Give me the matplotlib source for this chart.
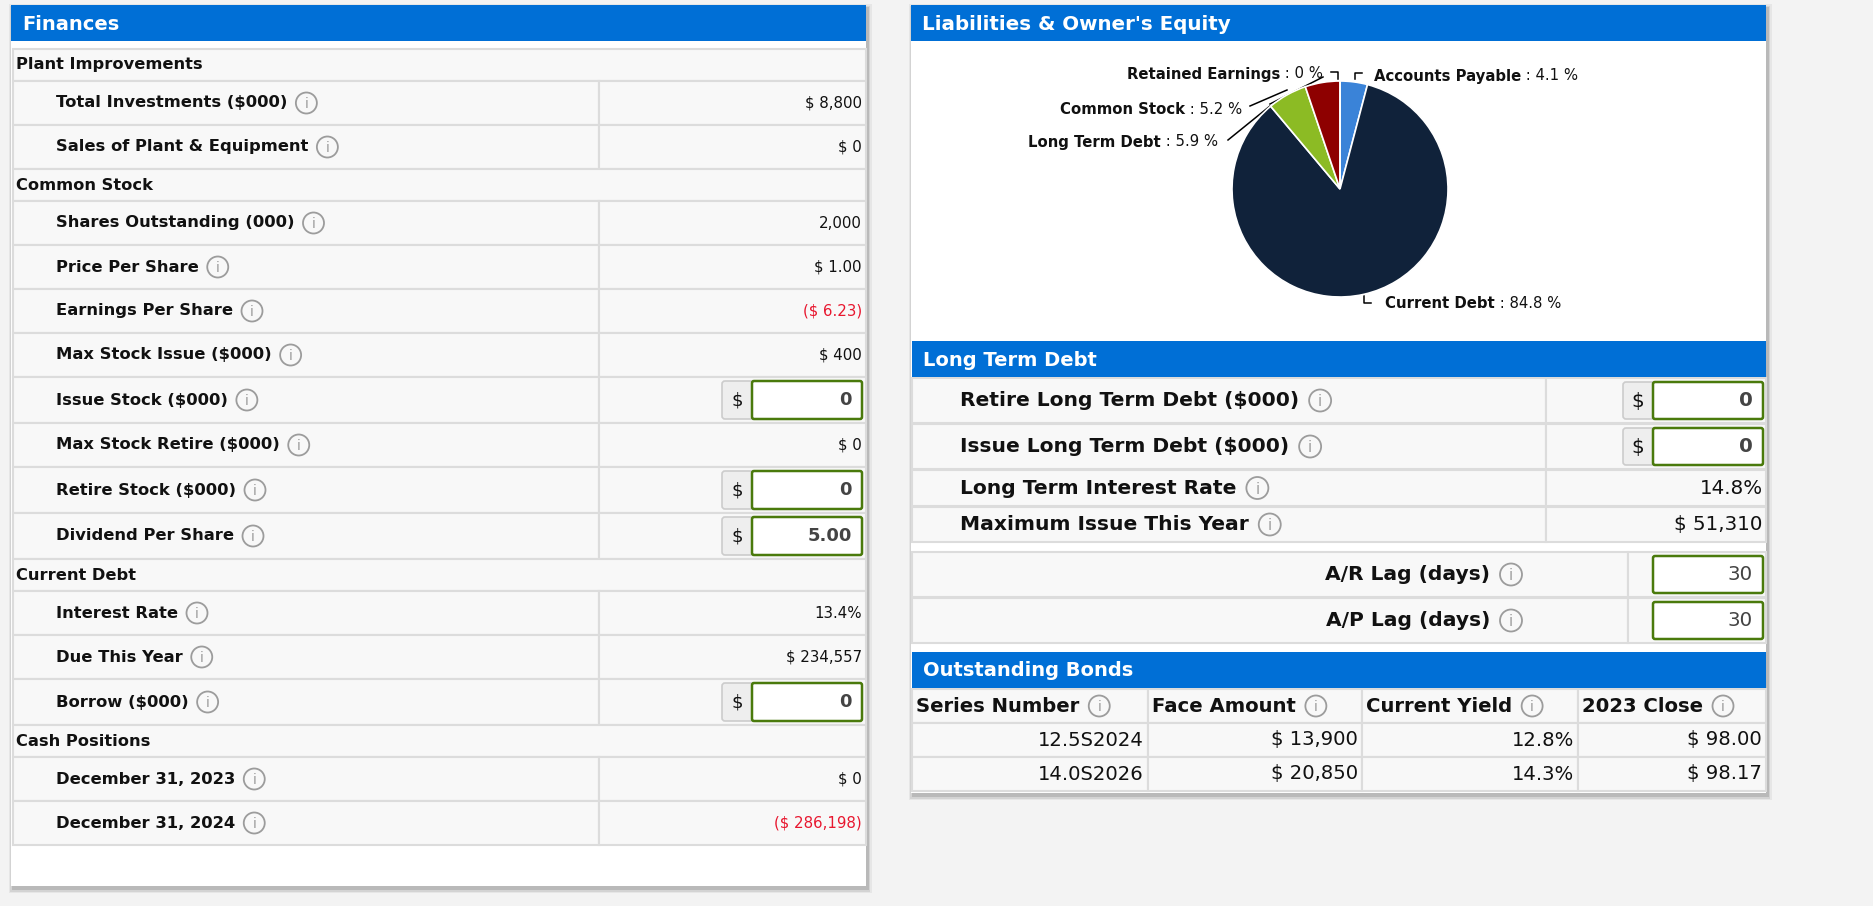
import matplotlib as mpl
mpl.use('Agg')
import matplotlib.pyplot as plt
from matplotlib.patches import Rectangle, Circle, FancyBboxPatch

# ---- data ----
plant_labels = ["Total Investments ($000)", "Sales of Plant & Equipment"]
plant_values = ["$ 8,800", "$ 0"]
stock_labels = ["Shares Outstanding (000)", "Price Per Share", "Earnings Per Share",
                "Max Stock Issue ($000)", "Issue Stock ($000)", "Max Stock Retire ($000)",
                "Retire Stock ($000)", "Dividend Per Share"]
stock_values = ["2,000", "$ 1.00", "($ 6.23)", "$ 400", "0", "$ 0", "0", "5.00"]
stock_inputs = [False, False, False, False, True, False, True, True]
debt_labels = ["Interest Rate", "Due This Year", "Borrow ($000)"]
debt_values = ["13.4%", "$ 234,557", "0"]
debt_inputs = [False, False, True]
cash_labels = ["December 31, 2023", "December 31, 2024"]
cash_values = ["$ 0", "($ 286,198)"]

pie_labels = ["Accounts Payable", "Current Debt", "Long Term Debt", "Common Stock", "Retained Earnings"]
pie_values = [4.1, 84.8, 5.9, 5.2, 0.0]
pie_colors = ["#3a83d8", "#10223a", "#8cbb24", "#8e0000", "#e0e0e0"]

ltd_labels = ["Retire Long Term Debt ($000)", "Issue Long Term Debt ($000)",
              "Long Term Interest Rate", "Maximum Issue This Year"]
ltd_values = ["0", "0", "14.8%", "$ 51,310"]
ltd_inputs = [True, True, False, False]
lag_labels = ["A/R Lag (days)", "A/P Lag (days)"]
lag_values = ["30", "30"]

bond_cols = ["Series Number", "Face Amount", "Current Yield", "2023 Close"]
bond_series = ["12.5S2024", "14.0S2026"]
bond_face = ["$ 13,900", "$ 20,850"]
bond_yield = ["12.8%", "14.3%"]
bond_close = ["$ 98.00", "$ 98.17"]

# ---- style ----
BLUE = '#006fd6'
ROWBG = '#f8f8f8'
GRID = '#dcdcdc'
TXT = '#111111'
RED = '#e8172f'
GREEN = '#4a7a0c'
FONT = 'DejaVu Sans'

fig = plt.figure(figsize=(18.74, 9.06), dpi=100)
fig.patch.set_facecolor('#f3f3f3')
ax = fig.add_axes([0, 0, 1, 1])
ax.set_xlim(0, 1874)
ax.set_ylim(906, 0)
ax.axis('off')
rend = fig.canvas.get_renderer()


def rect(x0, y0, x1, y1, fc, ec='none', lw=0, z=1):
    ax.add_patch(Rectangle((x0, y0), x1 - x0, y1 - y0, fc=fc, ec=ec, lw=lw, zorder=z))


def text_right_edge(t):
    bb = t.get_window_extent(renderer=rend)
    return ax.transData.inverted().transform((bb.x1, bb.y0))[0]


def text_left_edge(t):
    bb = t.get_window_extent(renderer=rend)
    return ax.transData.inverted().transform((bb.x0, bb.y0))[0]


def icon(x, y, r=10.5):
    ax.add_patch(Circle((x, y), r, fill=False, ec='#9c9c9c', lw=1.3, zorder=5))
    ax.text(x, y + 1, 'i', fontsize=r * 0.95, color='#9c9c9c', ha='center', va='center',
            family=FONT, zorder=5)


def label(x, y, s, size, ha='left', gap=19, r=10.5):
    t = ax.text(x, y, s, fontsize=size, fontweight='bold', color=TXT, ha=ha, va='center',
                family=FONT, zorder=4)
    icon(text_right_edge(t) + gap, y, r)


def input_box(xr, y, s, size, addon=True, h=38, w=110, bold=True):
    x0 = xr - w
    if addon:
        ax.add_patch(FancyBboxPatch((x0 - 30, y - h / 2), 34, h, boxstyle='round,pad=0,rounding_size=3',
                                    fc='#eeeeee', ec='#cccccc', lw=1.2, zorder=4))
        ax.text(x0 - 15, y + 1, '$', fontsize=size, color=TXT, ha='center', va='center', family=FONT, zorder=6)
    ax.add_patch(FancyBboxPatch((x0, y - h / 2), w, h, boxstyle='round,pad=0,rounding_size=2',
                                fc='white', ec=GREEN, lw=1.8, zorder=5))
    ax.text(xr - 10, y, s, fontsize=size, color='#444444', ha='right', va='center',
            fontweight='bold' if bold else 'normal', family=FONT, zorder=6)


def header(x0, x1, y0, y1, s, size=14):
    rect(x0, y0, x1, y1, BLUE, z=2)
    ax.text(x0 + 11, (y0 + y1) / 2 + 1, s, fontsize=size, fontweight='bold', color='white',
            va='center', family=FONT, zorder=3)


def panel(x0, y0, x1, y1):
    for k, a in [(4, 0.05), (2.5, 0.08), (1.2, 0.12)]:
        ax.add_patch(Rectangle((x0 - k + 2, y0 - k + 3), x1 - x0 + 2 * k, y1 - y0 + 2 * k,
                               fc='black', alpha=a, ec='none', zorder=0))
    rect(x0, y0, x1, y1, 'white', z=0.5)


# ---- left panel: Finances ----
LX0, LX1, LSPLIT = 13, 866, 599
panel(11, 5, 866, 886)
header(11, 866, 5, 41, 'Finances')

sections = [("Plant Improvements", plant_labels, plant_values, [False] * len(plant_labels)),
            ("Common Stock", stock_labels, stock_values, stock_inputs),
            ("Current Debt", debt_labels, debt_values, debt_inputs),
            ("Cash Positions", cash_labels, cash_values, [False] * len(cash_labels))]
y = 49
for title, labs, vals, inps in sections:
    rect(LX0, y, LX1, y + 32, ROWBG, GRID, 1.5)
    ax.text(LX0 + 3, y + 16, title, fontsize=11.7, fontweight='bold', color=TXT, va='center',
            family=FONT, zorder=4)
    y += 32
    for lab, val, inp in zip(labs, vals, inps):
        h = 46 if inp else 44
        rect(LX0, y, LSPLIT, y + h, ROWBG, GRID, 1.5)
        rect(LSPLIT, y, LX1, y + h, ROWBG, GRID, 1.5)
        cy = y + h / 2
        label(LX0 + 43, cy, lab, 11.8)
        if inp:
            input_box(862, cy, val, 13)
        else:
            col = RED if val.startswith('(') else TXT
            ax.text(862, cy, val, fontsize=10.8, color=col, ha='right', va='center', family=FONT, zorder=4)
        y += h

# ---- right panel ----
RX0, RX1 = 912, 1766
panel(911, 5, 1766, 793)
header(911, 1766, 5, 41, "Liabilities & Owner's Equity", 14.3)

# pie
PCX, PCY, PR = 1340, 189, 108
pax = fig.add_axes([(PCX - PR) / 1874, (906 - PCY - PR) / 906, 2 * PR / 1874, 2 * PR / 906])
pax.pie(pie_values, colors=pie_colors, startangle=90, counterclock=False,
        wedgeprops=dict(edgecolor='white', linewidth=1.2))
pax.set_xlim(-1, 1)
pax.set_ylim(-1, 1)
pax.set_aspect('equal')
pax.axis('off')

PFS = 10.7
pie_text = {"Retained Earnings": (1323, 74, 'right'),
            "Accounts Payable": (1374, 76, 'left'),
            "Common Stock": (1242, 110, 'right'),
            "Long Term Debt": (1218, 142, 'right'),
            "Current Debt": (1385, 304, 'left')}
for name, v in zip(pie_labels, pie_values):
    px, py, ha = pie_text[name]
    pct = ' : %s %%' % ('%g' % v)
    if ha == 'left':
        t = ax.text(px, py, name, fontsize=PFS, fontweight='bold', color=TXT, va='center', family=FONT, zorder=4)
        ax.text(text_right_edge(t), py, pct, fontsize=PFS, color=TXT, va='center', family=FONT, zorder=4)
    else:
        t = ax.text(px, py, pct, fontsize=PFS, color=TXT, va='center', ha='right', family=FONT, zorder=4)
        ax.text(text_left_edge(t), py, name, fontsize=PFS, fontweight='bold', color=TXT, va='center',
                ha='right', family=FONT, zorder=4)

conn = dict(color='black', lw=1.1, zorder=4)
ax.plot([1331, 1338, 1338], [72, 72, 79], **conn)
ax.plot([1355, 1355, 1362], [79, 73, 73], **conn)
ax.plot([1364, 1364, 1371], [296, 303, 303], **conn)
ax.plot([1323, 1270], [77, 104], **conn)
ax.plot([1250, 1287], [106, 90], **conn)
ax.plot([1228, 1270], [140, 106], **conn)

# long term debt
header(RX0, RX1, 341, 377, 'Long Term Debt')
ltd_rows = [(378, 423), (424, 469), (470, 506), (507, 542)]
for (y0, y1), lab, val, inp in zip(ltd_rows, ltd_labels, ltd_values, ltd_inputs):
    rect(RX0, y0, 1546, y1, ROWBG, GRID, 1.5)
    rect(1546, y0, RX1, y1, ROWBG, GRID, 1.5)
    cy = (y0 + y1) / 2
    label(960, cy, lab, 14.6, gap=21, r=11)
    if inp:
        input_box(1763, cy, val, 14.3, h=37)
    else:
        ax.text(1763, cy, val, fontsize=14.3, color=TXT, ha='right', va='center', family=FONT, zorder=4)

lag_rows = [(552, 597), (598, 643)]
for (y0, y1), lab, val in zip(lag_rows, lag_labels, lag_values):
    rect(RX0, y0, 1628, y1, ROWBG, GRID, 1.5)
    rect(1628, y0, RX1, y1, ROWBG, GRID, 1.5)
    cy = (y0 + y1) / 2
    ax.text(1490, cy, lab, fontsize=14.6, fontweight='bold', color=TXT, ha='right', va='center',
            family=FONT, zorder=4)
    icon(1511, cy, 11)
    input_box(1763, cy, val, 14.3, addon=False, h=37, bold=False)

# outstanding bonds
header(RX0, RX1, 652, 688, 'Outstanding Bonds')
col_edges = [RX0, 1148, 1362, 1578, RX1]
bond_rows = [bond_series, bond_face, bond_yield, bond_close]
for i, name in enumerate(bond_cols):
    x0, x1 = col_edges[i], col_edges[i + 1]
    rect(x0, 689, x1, 723, ROWBG, GRID, 1.5)
    label(x0 + 4, 706, name, 14.1, gap=20, r=10.5)
    for j, val in enumerate(bond_rows[i]):
        y0 = 723 + 34 * j
        rect(x0, y0, x1, y0 + 34, ROWBG, GRID, 1.5)
        ax.text(x1 - 4, y0 + 17, val, fontsize=14.1, color=TXT, ha='right', va='center', family=FONT, zorder=4)

plt.savefig('out.png', dpi=100, facecolor=fig.get_facecolor())
plt.close()
